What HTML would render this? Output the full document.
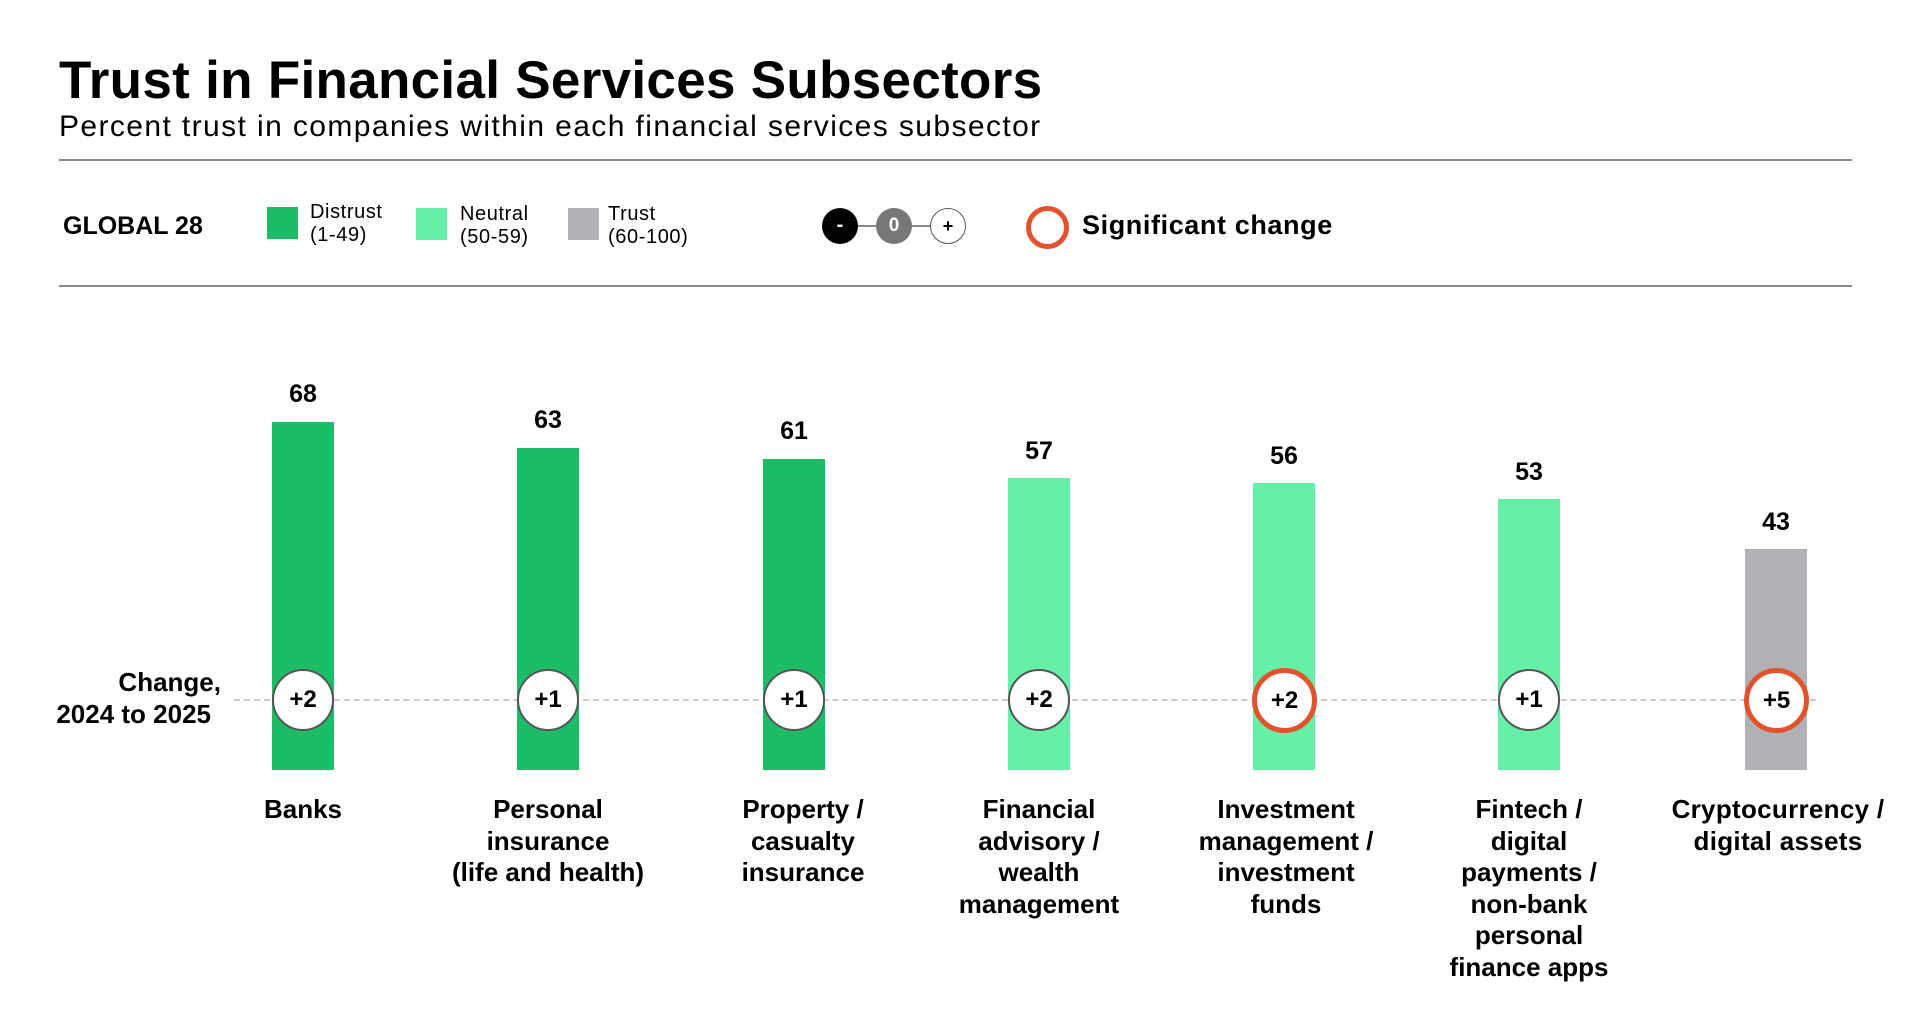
<!DOCTYPE html>
<html><head><meta charset="utf-8"><style>
html,body{margin:0;padding:0;background:#fff;}
body{width:1920px;height:1030px;position:relative;overflow:hidden;font-family:"Liberation Sans",Arial,sans-serif;color:#000;}
.a{position:absolute;}
.t{left:59px;top:50px;font-size:53px;font-weight:bold;letter-spacing:0.3px;}
.s{left:59px;top:110px;font-size:30px;letter-spacing:1.4px;}
.hr{left:59px;width:1793px;height:2px;background:#888;}
.sq{width:31px;height:32px;}
.lg{font-size:20px;line-height:23px;letter-spacing:0.6px;}
.bar{width:62px;}
.v{font-size:25px;font-weight:bold;width:100px;text-align:center;margin-left:-50px;}
.c{width:58px;height:58px;border-radius:50%;border:2px solid #555;background:#fff;margin-left:-31px;margin-top:-31px;font-weight:bold;font-size:24px;text-align:center;line-height:58px;}
.c.o{border:5px solid #e2532d;width:55px;height:55px;line-height:55px;margin-left:-32px;margin-top:-32px;}
.cat{font-size:26px;font-weight:bold;line-height:31.5px;text-align:center;width:260px;margin-left:-130px;top:794px;}
</style></head><body>
<div class="a t">Trust in Financial Services Subsectors</div>
<div class="a s">Percent trust in companies within each financial services subsector</div>
<div class="a hr" style="top:159px"></div>
<div class="a hr" style="top:285px"></div>
<div class="a" style="left:63px;top:212px;font-size:25px;font-weight:bold;">GLOBAL 28</div>
<div class="a sq" style="left:267px;top:207px;background:#1dbd68"></div>
<div class="a lg" style="left:310px;top:201px">Distrust<br>(1-49)</div>
<div class="a sq" style="left:416px;top:208px;background:#66efa6"></div>
<div class="a lg" style="left:460px;top:203px">Neutral<br>(50-59)</div>
<div class="a sq" style="left:568px;top:208px;background:#b0b1b5"></div>
<div class="a lg" style="left:608px;top:203px">Trust<br>(60-100)</div>
<div class="a" style="left:850px;top:225px;width:100px;height:2px;background:#888"></div>
<div class="a" style="left:822px;top:208px;width:36px;height:36px;border-radius:50%;background:#000;color:#fff;text-align:center;line-height:35px;font-weight:bold;font-size:20px">-</div>
<div class="a" style="left:876px;top:208px;width:36px;height:36px;border-radius:50%;background:#777;color:#fff;text-align:center;line-height:36px;font-weight:bold;font-size:19px">0</div>
<div class="a" style="left:930px;top:208px;width:34px;height:34px;border-radius:50%;background:#fff;border:1px solid #555;text-align:center;line-height:34px;font-weight:bold;font-size:18px">+</div>
<div class="a" style="left:1026px;top:206px;width:33px;height:33px;border-radius:50%;border:5px solid #e2532d"></div>
<div class="a" style="left:1082px;top:210px;font-size:27px;font-weight:bold;letter-spacing:0.6px">Significant change</div>

<div class="a" style="left:234px;top:699px;width:1582px;border-top:2px dashed #ccc"></div>
<div class="a" style="left:20px;width:201px;top:666px;font-size:26px;font-weight:bold;text-align:right;line-height:32px;white-space:nowrap">Change,<br><span style="margin-right:10px">2024 to 2025</span></div>

<div class="a bar" style="left:272px;top:422px;height:348px;background:#1dbd68"></div>
<div class="a bar" style="left:517px;top:448px;height:322px;background:#1dbd68"></div>
<div class="a bar" style="left:763px;top:459px;height:311px;background:#1dbd68"></div>
<div class="a bar" style="left:1008px;top:478px;height:292px;background:#66efa6"></div>
<div class="a bar" style="left:1253px;top:483px;height:287px;background:#66efa6"></div>
<div class="a bar" style="left:1498px;top:499px;height:271px;background:#66efa6"></div>
<div class="a bar" style="left:1745px;top:549px;height:221px;background:#b0b1b5"></div>

<div class="a v" style="left:303px;top:380px">68</div>
<div class="a v" style="left:548px;top:406px">63</div>
<div class="a v" style="left:794px;top:417px">61</div>
<div class="a v" style="left:1039px;top:437px">57</div>
<div class="a v" style="left:1284px;top:442px">56</div>
<div class="a v" style="left:1529px;top:458px">53</div>
<div class="a v" style="left:1776px;top:508px">43</div>

<div class="a c" style="left:303px;top:700px">+2</div>
<div class="a c" style="left:548px;top:700px">+1</div>
<div class="a c" style="left:794px;top:700px">+1</div>
<div class="a c" style="left:1039px;top:700px">+2</div>
<div class="a c o" style="left:1284px;top:700px">+2</div>
<div class="a c" style="left:1529px;top:700px">+1</div>
<div class="a c o" style="left:1776px;top:700px">+5</div>

<div class="a cat" style="left:303px">Banks</div>
<div class="a cat" style="left:548px">Personal<br>insurance<br>(life and health)</div>
<div class="a cat" style="left:803px">Property /<br>casualty<br>insurance</div>
<div class="a cat" style="left:1039px">Financial<br>advisory /<br>wealth<br>management</div>
<div class="a cat" style="left:1286px">Investment<br>management /<br>investment<br>funds</div>
<div class="a cat" style="left:1529px">Fintech /<br>digital<br>payments /<br>non-bank<br>personal<br>finance apps</div>
<div class="a cat" style="left:1778px;width:280px;margin-left:-140px;letter-spacing:0.3px">Cryptocurrency /<br>digital assets</div>
</body></html>
